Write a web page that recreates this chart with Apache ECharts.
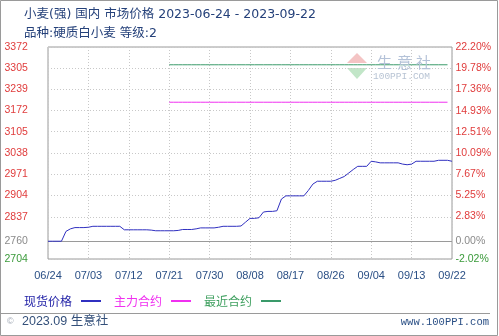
<!DOCTYPE html>
<html>
<head>
<meta charset="utf-8">
<script src="https://cdn.jsdelivr.net/npm/echarts@6/dist/echarts.min.js"></script>
<style>
html,body{margin:0;padding:0;background:#fff;}
#c{width:499px;height:336px;}
</style>
</head>
<body>
<div id="c"></div>
<script>
// ---- data ----
const startDate = '2023-06-24';
const dayCount = 91;
const xTickLabels = ['06/24','07/03','07/12','07/21','07/30','08/08','08/17','08/26','09/04','09/13','09/22'];
const spotPrice = [
  2760,2760,2760,2760,2791,2799,2803,2803,2803,2804,
  2807,2807,2807,2807,2807,2807,2807,2796,2796,2796,
  2796,2796,2796,2795,2793,2793,2793,2793,2793,2794,
  2797,2797,2797,2799,2802,2802,2802,2802,2804,2807,
  2807,2807,2807,2808,2820,2832,2832,2834,2852,2854,
  2854,2856,2893,2903,2903,2903,2903,2903,2920,2940,
  2949,2949,2949,2949,2952,2958,2964,2975,2986,2996,
  2996,2996,3012,3010,3007,3007,3007,3007,3007,3003,
  3001,3003,3012,3012,3012,3012,3012,3015,3015,3015,
  3012
];
const mainContract = {from: '07/21', to: '09/21', value: 3198};
const nearContract = {from: '07/21', to: '09/21', value: 3316};
const leftTicks = [2704,2760,2837,2904,2971,3038,3105,3172,3239,3305,3372];
const rightTicks = [-2.02,0,2.83,5.25,7.67,10.09,12.51,14.93,17.36,19.78,22.20];
const basePrice = 2760;
const seriesNames = ['现货价格','主力合约','最近合约'];
const titleText = '小麦(强) 国内 市场价格 2023-06-24 - 2023-09-22';
const subTitleText = '品种:硬质白小麦 等级:2';

// ---- categories ----
const categories = [];
{
  const d0 = new Date(startDate + 'T00:00:00Z');
  for (let i = 0; i < dayCount; i++) {
    const d = new Date(d0.getTime() + i * 86400000);
    const mm = String(d.getUTCMonth() + 1).padStart(2, '0');
    const dd = String(d.getUTCDate()).padStart(2, '0');
    categories.push(mm + '/' + dd);
  }
}
function rangeSeries(r) {
  const a = categories.indexOf(r.from), b = categories.indexOf(r.to);
  return categories.map((c, i) => (i >= a && i <= b) ? r.value : null);
}

const CJK = 'Noto Sans CJK SC';
const MIX = 'DejaVu Sans, Noto Sans CJK SC';
const MIX2 = 'Liberation Sans, Noto Sans CJK SC';
const LAT = 'Liberation Sans';
const MONO = 'Liberation Mono';
const navy = '#25417a';
const cBlue = '#3030c0', cPink = '#f030f0', cGreen = '#3a9a6a';
const cRed = '#e03c3c', cGray = '#8a8a8a', cLGreen = '#3a9a3a';

function txt(x, y, text, size, family, color, align) {
  return {type: 'text', x: x, y: y, z: 10, style: {
    text: text, fontSize: size, fontFamily: family, fill: color,
    align: align || 'left', verticalAlign: 'middle'
  }};
}

const chart = echarts.init(document.getElementById('c'), null, {renderer: 'canvas'});
chart.setOption({
  animation: false,
  backgroundColor: '#fff',
  grid: {left: 48, right: 47, top: 47, bottom: 77, show: true, borderColor: '#9a9a9a', borderWidth: 1},
  legend: {
    left: 19, top: 290, align: 'right', icon: 'rect', itemWidth: 20, itemHeight: 2, itemGap: 13,
    textStyle: {fontFamily: CJK, fontSize: 12, padding: [0, 4, 0, 0]},
    data: [
      {name: seriesNames[0], textStyle: {color: '#2424a8'}},
      {name: seriesNames[1], textStyle: {color: cPink}},
      {name: seriesNames[2], textStyle: {color: '#40a060'}}
    ]
  },
  xAxis: {
    type: 'category', data: categories, boundaryGap: false,
    axisLine: {show: false}, axisTick: {show: false},
    axisLabel: {
      interval: 8, margin: 11, fontFamily: LAT, fontSize: 11, color: '#2a4f85',
      showMinLabel: true, showMaxLabel: true
    },
    splitLine: {show: true, interval: 8, lineStyle: {color: '#c8c8c8', type: [1, 2], width: 1}}
  },
  yAxis: [
    {
      type: 'value', min: 2704, max: 3372, position: 'left',
      axisLine: {show: false},
      axisTick: {show: false, customValues: leftTicks},
      axisLabel: {
        customValues: leftTicks, align: 'left', margin: 43.5, fontFamily: LAT, fontSize: 10.5,
        formatter: v => String(v),
        color: v => (Number(v) === basePrice ? cGray : (Number(v) < basePrice ? cLGreen : cRed))
      },
      splitLine: {show: true, lineStyle: {color: '#c8c8c8', type: [1, 2], width: 1}}
    },
    {
      type: 'value', min: -2.02, max: 22.20, position: 'right',
      axisLine: {show: false},
      axisTick: {show: false, customValues: rightTicks},
      axisLabel: {
        customValues: rightTicks, align: 'left', margin: 3.5, fontFamily: LAT, fontSize: 10.5,
        formatter: v => Number(v).toFixed(2) + '%',
        color: v => (Number(v) === 0 ? cGray : (Number(v) < 0 ? cLGreen : cRed))
      },
      splitLine: {show: false}
    }
  ],
  series: [
    {
      name: seriesNames[0], type: 'line', data: spotPrice, yAxisIndex: 0, z: 5,
      symbol: 'none', lineStyle: {color: cBlue, width: 1}, itemStyle: {color: cBlue},
      markLine: {
        silent: true, symbol: 'none', label: {show: false}, z: 1,
        lineStyle: {color: '#9a9a9a', type: 'solid', width: 1},
        data: [{yAxis: basePrice}]
      }
    },
    {
      name: seriesNames[1], type: 'line', data: rangeSeries(mainContract), yAxisIndex: 0, z: 4,
      symbol: 'none', connectNulls: false, lineStyle: {color: cPink, width: 1}, itemStyle: {color: cPink}
    },
    {
      name: seriesNames[2], type: 'line', data: rangeSeries(nearContract), yAxisIndex: 0, z: 4,
      symbol: 'none', connectNulls: false, lineStyle: {color: cGreen, width: 1}, itemStyle: {color: cGreen}
    }
  ],
  graphic: [
    txt(24, 15, titleText, 12.5, MIX, navy),
    txt(24, 34, subTitleText, 12.5, MIX, navy),
    {type: 'rect', shape: {x: 0.5, y: 0.5, width: 497, height: 335}, style: {fill: 'none', stroke: '#9a9a9a', lineWidth: 1}, z: 100},
    {type: 'line', shape: {x1: 0, y1: 313.5, x2: 490, y2: 313.5}, style: {stroke: '#9a9a9a', lineWidth: 1}},
    txt(7, 321.5, '©', 9, LAT, '#a0a8b4'),
    txt(22, 322, '2023.09 生意社', 12.5, MIX2, '#34507a'),
    txt(489, 322.5, 'www.100PPI.com', 10.5, MONO, '#2a4f85', 'right'),
    // watermark
    {type: 'polygon', shape: {points: [[357, 53], [367, 63], [347, 63]]}, style: {fill: '#f4c4c4'}, z: 0},
    {type: 'polygon', shape: {points: [[347, 68], [367, 68], [357, 79]]}, style: {fill: '#c2e6c8'}, z: 0},
    txt(377, 62, '生', 15, CJK, '#b4c2d8'),
    txt(397, 62, '意', 15, CJK, '#b4c2d8'),
    txt(416, 62, '社', 15, CJK, '#b4c2d8'),
    txt(373, 76, '100PPI.COM', 9.5, MONO, '#b8c4d4')
  ]
});
</script>
</body>
</html>
